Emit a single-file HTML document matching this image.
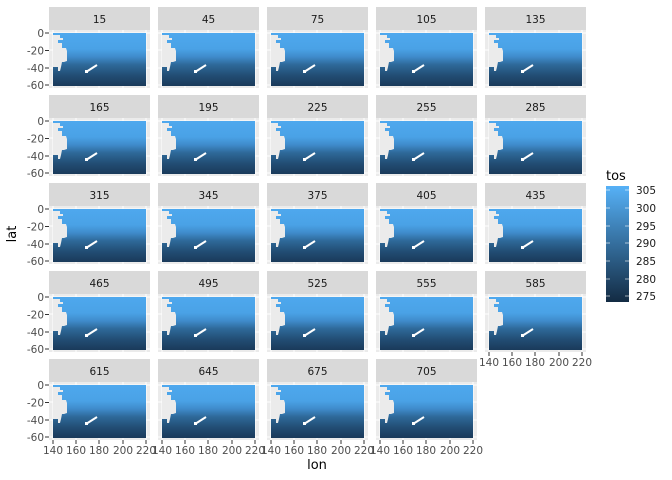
<!DOCTYPE html>
<html><head><meta charset="utf-8"><style>
body{margin:0;background:#fff}
svg{display:block}
text{font-family:"DejaVu Sans","Liberation Sans",sans-serif}
</style></head><body>
<svg width="672" height="480" viewBox="0 0 672 480" xmlns="http://www.w3.org/2000/svg">
<defs>
<linearGradient id="g" x1="0" y1="0" x2="0" y2="1">
<stop offset="0" stop-color="#4ea8ee"/>
<stop offset="0.3" stop-color="#4aa2e6"/>
<stop offset="0.45" stop-color="#3f8bcb"/>
<stop offset="0.6" stop-color="#2e6999"/>
<stop offset="0.8" stop-color="#224d74"/>
<stop offset="1" stop-color="#1a3a5a"/>
</linearGradient>
<linearGradient id="lg" x1="0" y1="0" x2="0" y2="1">
<stop offset="0" stop-color="#56B1F7"/>
<stop offset="1" stop-color="#132B43"/>
</linearGradient>
<g id="p">
<rect x="0" y="0" width="101" height="58" fill="#EBEBEB"/>
<g stroke="#fff" stroke-width="1">
<line x1="4" y1="0" x2="4" y2="58"/><line x1="27" y1="0" x2="27" y2="58"/><line x1="50" y1="0" x2="50" y2="58"/><line x1="74" y1="0" x2="74" y2="58"/><line x1="97" y1="0" x2="97" y2="58"/>
<line x1="0" y1="3" x2="101" y2="3"/><line x1="0" y1="20" x2="101" y2="20"/><line x1="0" y1="38" x2="101" y2="38"/><line x1="0" y1="55" x2="101" y2="55"/>
</g>
<rect x="4" y="3" width="93" height="53" fill="url(#g)"/>
<polygon points="4,5 11,5 11,8 14,8 14,10 9,10 9,13 13,13 13,18 17,18 18,21 18,31 15,32 13,32 12,37 11,41 9,41 9,37 4,37" fill="#EBEBEB"/>
<path d="M37,42 L48,35" stroke="#fff" stroke-width="2"/>
<rect x="36" y="40" width="3" height="3" fill="#fff"/>
</g>
<g id="s"><rect x="0" y="0" width="101" height="23" fill="#D9D9D9"/></g>
</defs>

<g font-size="10.5" fill="#1A1A1A" text-anchor="middle">
<use href="#s" x="49" y="7"/><use href="#p" x="49" y="30"/><text x="99.5" y="23">15</text>
<use href="#s" x="158" y="7"/><use href="#p" x="158" y="30"/><text x="208.5" y="23">45</text>
<use href="#s" x="267" y="7"/><use href="#p" x="267" y="30"/><text x="317.5" y="23">75</text>
<use href="#s" x="376" y="7"/><use href="#p" x="376" y="30"/><text x="426.5" y="23">105</text>
<use href="#s" x="485" y="7"/><use href="#p" x="485" y="30"/><text x="535.5" y="23">135</text>
<use href="#s" x="49" y="95"/><use href="#p" x="49" y="118"/><text x="99.5" y="111">165</text>
<use href="#s" x="158" y="95"/><use href="#p" x="158" y="118"/><text x="208.5" y="111">195</text>
<use href="#s" x="267" y="95"/><use href="#p" x="267" y="118"/><text x="317.5" y="111">225</text>
<use href="#s" x="376" y="95"/><use href="#p" x="376" y="118"/><text x="426.5" y="111">255</text>
<use href="#s" x="485" y="95"/><use href="#p" x="485" y="118"/><text x="535.5" y="111">285</text>
<use href="#s" x="49" y="183"/><use href="#p" x="49" y="206"/><text x="99.5" y="199">315</text>
<use href="#s" x="158" y="183"/><use href="#p" x="158" y="206"/><text x="208.5" y="199">345</text>
<use href="#s" x="267" y="183"/><use href="#p" x="267" y="206"/><text x="317.5" y="199">375</text>
<use href="#s" x="376" y="183"/><use href="#p" x="376" y="206"/><text x="426.5" y="199">405</text>
<use href="#s" x="485" y="183"/><use href="#p" x="485" y="206"/><text x="535.5" y="199">435</text>
<use href="#s" x="49" y="271"/><use href="#p" x="49" y="294"/><text x="99.5" y="287">465</text>
<use href="#s" x="158" y="271"/><use href="#p" x="158" y="294"/><text x="208.5" y="287">495</text>
<use href="#s" x="267" y="271"/><use href="#p" x="267" y="294"/><text x="317.5" y="287">525</text>
<use href="#s" x="376" y="271"/><use href="#p" x="376" y="294"/><text x="426.5" y="287">555</text>
<use href="#s" x="485" y="271"/><use href="#p" x="485" y="294"/><text x="535.5" y="287">585</text>
<use href="#s" x="49" y="359"/><use href="#p" x="49" y="382"/><text x="99.5" y="375">615</text>
<use href="#s" x="158" y="359"/><use href="#p" x="158" y="382"/><text x="208.5" y="375">645</text>
<use href="#s" x="267" y="359"/><use href="#p" x="267" y="382"/><text x="317.5" y="375">675</text>
<use href="#s" x="376" y="359"/><use href="#p" x="376" y="382"/><text x="426.5" y="375">705</text>
</g>

<g id="ya" font-size="10.5" fill="#4D4D4D" text-anchor="end">
<g stroke="#333" stroke-width="1"><line x1="45" y1="33" x2="49" y2="33"/><line x1="45" y1="50.5" x2="49" y2="50.5"/><line x1="45" y1="68" x2="49" y2="68"/><line x1="45" y1="85" x2="49" y2="85"/></g>
<text x="44" y="37">0</text><text x="44" y="54.5">-20</text><text x="44" y="72">-40</text><text x="44" y="89">-60</text>
</g>
<use href="#ya" y="88"/><use href="#ya" y="176"/><use href="#ya" y="264"/><use href="#ya" y="352"/>

<g id="xa" font-size="10.5" fill="#4D4D4D" text-anchor="middle">
<g stroke="#333" stroke-width="1"><line x1="53" y1="440" x2="53" y2="444"/><line x1="76" y1="440" x2="76" y2="444"/><line x1="99" y1="440" x2="99" y2="444"/><line x1="123" y1="440" x2="123" y2="444"/><line x1="146" y1="440" x2="146" y2="444"/></g>
<text x="53" y="454">140</text><text x="76" y="454">160</text><text x="99" y="454">180</text><text x="123" y="454">200</text><text x="146" y="454">220</text>
</g>
<use href="#xa" x="109"/><use href="#xa" x="218"/><use href="#xa" x="327"/><use href="#xa" x="436" y="-88"/>

<text x="317" y="469" font-size="13" fill="#000" text-anchor="middle">lon</text>
<text transform="translate(16,234) rotate(-90)" font-size="13" fill="#000" text-anchor="middle">lat</text>

<text x="606" y="180" font-size="13" fill="#000">tos</text>
<rect x="606" y="186" width="23" height="116" fill="url(#lg)"/>
<g stroke="#fff" stroke-opacity="0.6" stroke-width="1">
<line x1="606" y1="190" x2="610" y2="190"/><line x1="625" y1="190" x2="629" y2="190"/>
<line x1="606" y1="208" x2="610" y2="208"/><line x1="625" y1="208" x2="629" y2="208"/>
<line x1="606" y1="226" x2="610" y2="226"/><line x1="625" y1="226" x2="629" y2="226"/>
<line x1="606" y1="243" x2="610" y2="243"/><line x1="625" y1="243" x2="629" y2="243"/>
<line x1="606" y1="261" x2="610" y2="261"/><line x1="625" y1="261" x2="629" y2="261"/>
<line x1="606" y1="279" x2="610" y2="279"/><line x1="625" y1="279" x2="629" y2="279"/>
<line x1="606" y1="296" x2="610" y2="296"/><line x1="625" y1="296" x2="629" y2="296"/>
</g>
<g font-size="10.5" fill="#1A1A1A">
<text x="636" y="194">305</text><text x="636" y="212">300</text><text x="636" y="230">295</text><text x="636" y="247">290</text><text x="636" y="265">285</text><text x="636" y="283">280</text><text x="636" y="300">275</text>
</g>
</svg>
</body></html>
